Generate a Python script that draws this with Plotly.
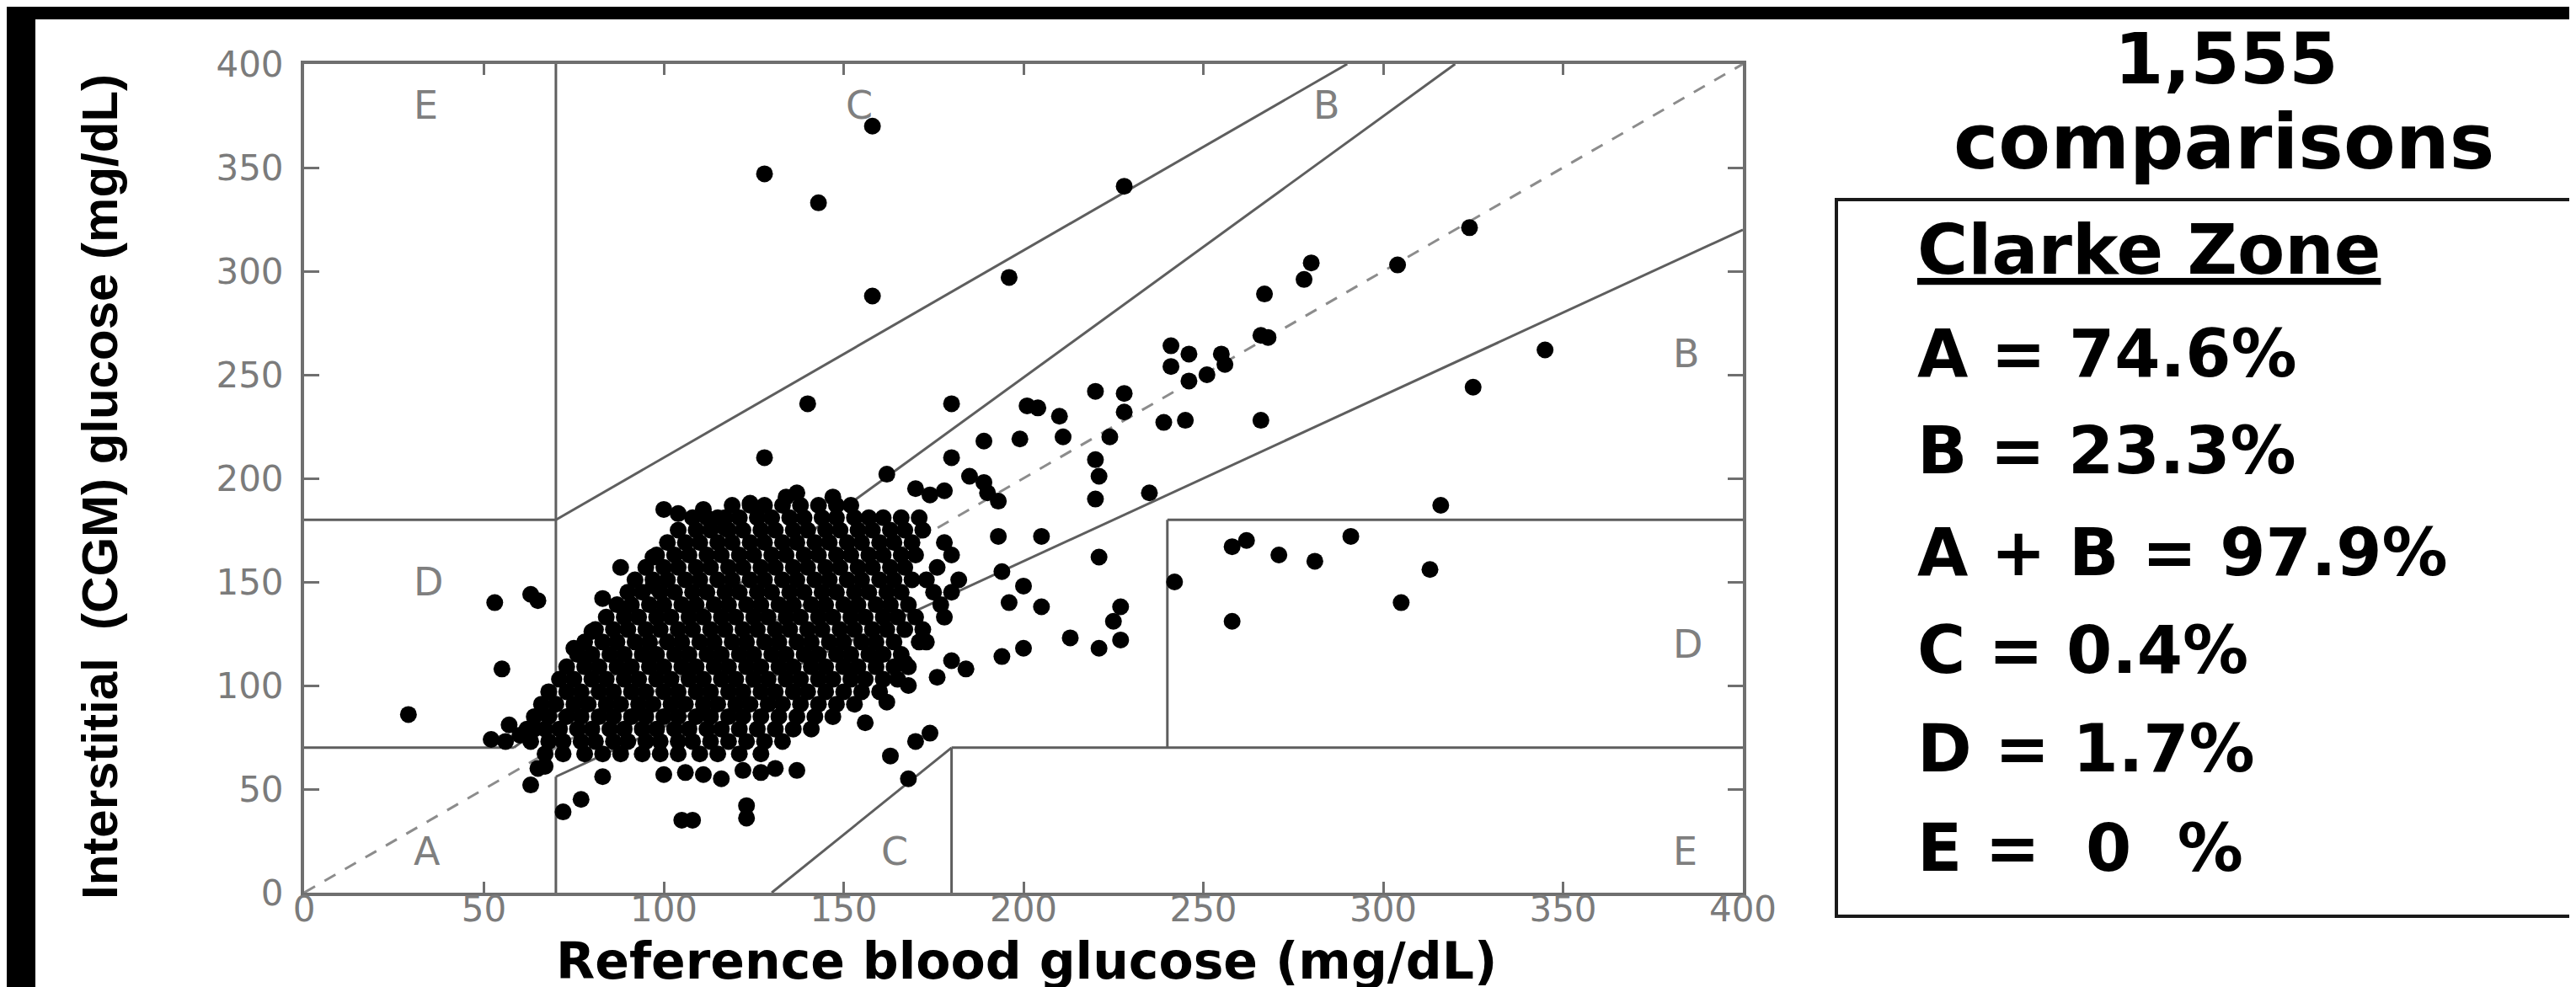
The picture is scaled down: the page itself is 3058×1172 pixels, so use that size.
import plotly.graph_objects as go

# ---------------- data ----------------
tick_vals = [0, 50, 100, 150, 200, 250, 300, 350, 400]
tick_text = ["0", "50", "100", "150", "200", "250", "300", "350", "400"]

# Clarke error grid boundaries (None separates segments)
zone_x = [0, 58.3, None, 58.3, 320, None, 70, 70, None, 0, 70, None, 70, 290, None,
          70, 70, None, 70, 400, None, 180, 180, None, 180, 400, None, 240, 240, None,
          240, 400, None, 130, 180]
zone_y = [70, 70, None, 70, 400, None, 84, 400, None, 180, 180, None, 180, 400, None,
          0, 56, None, 56, 320, None, 0, 70, None, 70, 70, None, 70, 180, None,
          180, 180, None, 0, 70]
identity_x = [0, 400]
identity_y = [0, 400]

zone_labels = ["A", "D", "E", "C", "C", "E", "D", "B", "B"]
zone_label_x = [30, 30, 30, 150, 160, 380, 380, 380, 280]
zone_label_y = [20, 150, 380, 380, 20, 20, 120, 260, 380]

# dense core of the scatter, read row by row (CGM level -> reference values)
core_cgm = [187, 181, 175, 169, 163, 157, 151, 145, 139, 133, 127, 121, 115, 109,
            103, 97, 91, 85, 79, 73, 67]
core_ref = [
    [119, 124, 128, 133, 138, 143, 148, 152],
    [108, 112, 117, 121, 126, 130, 135, 139, 144, 148, 153, 157, 161, 166, 171],
    [104, 109, 113, 118, 122, 127, 131, 136, 140, 145, 149, 154, 158, 163, 167, 172],
    [101, 106, 110, 115, 119, 124, 128, 133, 137, 142, 146, 151, 155, 160, 164, 169, 178],
    [98, 103, 107, 112, 116, 121, 125, 130, 134, 139, 143, 148, 152, 157, 161, 166, 170, 180],
    [95, 100, 104, 109, 113, 118, 122, 127, 131, 136, 140, 145, 149, 154, 158, 163, 167, 176],
    [92, 97, 101, 106, 110, 115, 119, 124, 128, 133, 137, 142, 146, 151, 155, 160, 164, 169, 173, 182],
    [90, 94, 99, 103, 108, 112, 117, 121, 126, 130, 135, 139, 144, 148, 153, 157, 162, 166, 175, 180],
    [87, 91, 96, 100, 105, 109, 114, 118, 123, 127, 132, 136, 141, 145, 150, 154, 159, 163, 168, 177],
    [84, 89, 93, 98, 102, 107, 111, 116, 120, 125, 129, 134, 138, 143, 147, 152, 156, 161, 165, 170, 178],
    [81, 86, 90, 95, 99, 104, 108, 113, 117, 122, 126, 131, 135, 140, 144, 149, 153, 158, 162, 167, 172],
    [78, 83, 87, 92, 96, 101, 105, 110, 114, 119, 123, 128, 132, 137, 141, 146, 150, 155, 159, 164, 173],
    [76, 80, 85, 89, 94, 98, 103, 107, 112, 116, 121, 125, 130, 134, 139, 143, 148, 152, 157, 161, 166],
    [73, 78, 82, 87, 91, 96, 100, 105, 109, 114, 118, 123, 127, 132, 136, 141, 145, 150, 154, 159, 164, 168],
    [71, 75, 80, 84, 89, 93, 98, 102, 107, 111, 116, 120, 125, 129, 134, 138, 143, 147, 152, 156, 161, 165],
    [68, 73, 77, 82, 86, 91, 95, 100, 104, 109, 113, 118, 122, 127, 131, 136, 140, 145, 150, 155, 160],
    [66, 70, 75, 79, 84, 88, 93, 97, 102, 106, 111, 115, 120, 124, 129, 133, 138, 143, 148, 153],
    [64, 68, 73, 77, 82, 86, 91, 95, 100, 104, 109, 113, 118, 122, 127, 132, 137, 142, 147],
    [62, 67, 71, 76, 80, 85, 89, 94, 98, 103, 107, 112, 116, 121, 126, 131, 136, 141],
    [63, 68, 72, 77, 81, 86, 90, 95, 99, 104, 108, 113, 118, 123, 128, 133],
    [67, 72, 78, 83, 88, 94, 99, 104, 110, 115, 121, 127],
]

# individually visible points around the core
outlier_ref = [158, 128, 143, 228, 196, 158, 140, 128, 180, 180, 162, 189, 201, 204, 210,
               220, 228, 228, 241, 241, 239, 224, 211, 199, 220, 221, 220, 235, 205, 221,
               242, 200, 205, 227, 225, 227, 213, 221, 200, 194, 180, 167, 171, 196, 194,
               193, 170, 174, 178, 185, 189, 190, 193, 134, 137, 147, 124, 115, 117, 111,
               104, 100, 97, 97, 88, 83, 80, 75, 53, 63, 65, 55, 29,
               324, 304, 280, 278, 267, 266, 268, 246, 255, 256, 251, 246, 345, 325, 266, 245,
               258, 262, 271, 281, 291, 305, 313, 258, 316,
               168, 163, 170, 174, 156, 162, 168, 176, 184,
               63, 72, 77, 105, 108, 123, 123, 83, 100, 106, 111, 116, 122, 127, 131, 137,
               65, 67, 56, 60, 64, 52, 57]
outlier_cgm = [370, 347, 333, 341, 297, 288, 236, 210, 236, 210, 202, 218, 235, 234, 230,
               242, 241, 232, 264, 254, 227, 220, 220, 219, 209, 201, 190, 193, 172, 162,
               150, 148, 138, 138, 131, 122, 123, 118, 118, 114, 112, 111, 121, 140, 155,
               172, 195, 192, 194, 201, 198, 193, 189, 191, 193, 191, 188, 181, 176, 185,
               183, 185, 162, 148, 157, 142, 126, 118, 140, 144, 141, 108, 86,
               321, 303, 304, 296, 289, 269, 268, 260, 260, 255, 250, 247, 262, 244, 228, 228,
               167, 170, 163, 160, 172, 140, 156, 131, 187,
               55, 66, 73, 77, 82, 92, 100, 104, 108,
               52, 39, 45, 35, 35, 42, 36, 56, 57, 58, 57, 55, 59, 58, 60, 59,
               60, 61, 73, 76, 79, 74, 81]

n_comparisons = "1,555"
stat_lines = ["A = 74.6%", "B = 23.3%", "A + B = 97.9%", "C = 0.4%", "D = 1.7%",
              "E =\u00a0\u00a00\u00a0\u00a0%"]

# ---------------- layout helpers (pixels -> paper) ----------------
W, H = 3058, 1172
PL, PR, PT, PB = 353, 2061, 68, 1052


def px(x):
    return (x - PL) / (PR - PL)


def py(y):
    return (PB - y) / (PB - PT)


pts_x = [v for row in core_ref for v in row] + outlier_ref
pts_y = [c for c, row in zip(core_cgm, core_ref) for _ in row] + outlier_cgm

fig = go.Figure()
fig.add_trace(go.Scatter(x=identity_x, y=identity_y, mode="lines",
                         line=dict(color="#8c8c8c", width=3, dash="15px,13px"),
                         hoverinfo="skip"))
fig.add_trace(go.Scatter(x=zone_x, y=zone_y, mode="lines", connectgaps=False,
                         line=dict(color="#5e5e5e", width=3), hoverinfo="skip"))
fig.add_trace(go.Scatter(x=pts_x, y=pts_y, mode="markers",
                         marker=dict(color="black", size=20, line=dict(width=0))))

gray = "#6f6f6f"
axis_common = dict(range=[0, 400], showline=True, linecolor=gray, linewidth=4,
                   mirror="ticks", ticks="inside", tickcolor=gray, tickwidth=3,
                   tickvals=tick_vals, ticktext=tick_text, showgrid=False, zeroline=False,
                   tickfont=dict(family="DejaVu Sans", size=42, color="#7b7b7b"))
fig.update_xaxes(**axis_common, ticklen=13, ticklabelstandoff=-20)
fig.update_yaxes(**axis_common, ticklen=18, ticklabelstandoff=12)

ann = []
for lab, lx, ly in zip(zone_labels, zone_label_x, zone_label_y):
    ann.append(dict(x=lx, y=ly, xref="x", yref="y", text=lab, showarrow=False,
                    xanchor="left", yanchor="middle",
                    font=dict(family="DejaVu Sans", size=46, color="#7f7f7f")))

ann.append(dict(x=px(1210), y=py(1133), xref="paper", yref="paper",
                text="Reference blood glucose (mg/dL)", showarrow=False,
                xanchor="center", yanchor="middle",
                font=dict(family="DejaVu Sans", size=60, color="black", weight="bold")))
ann.append(dict(x=px(110), y=py(570), xref="paper", yref="paper", textangle=-90,
                text="Interstitial\u00a0\u00a0(CGM) glucose (mg/dL)", showarrow=False,
                xanchor="center", yanchor="middle",
                font=dict(family="Liberation Sans, Arial, sans-serif",
                          size=60, color="black", weight="bold")))

ann.append(dict(x=px(2635), y=py(62), xref="paper", yref="paper", text=n_comparisons,
                showarrow=False, xanchor="center", yanchor="middle",
                font=dict(family="DejaVu Sans", size=84, color="black", weight="bold")))
ann.append(dict(x=px(2632), y=py(160), xref="paper", yref="paper", text="comparisons",
                showarrow=False, xanchor="center", yanchor="middle",
                font=dict(family="DejaVu Sans", size=90, color="black", weight="bold")))
ann.append(dict(x=px(2266), y=py(288), xref="paper", yref="paper",
                text="<u>Clarke Zone</u>", showarrow=False, xanchor="left", yanchor="middle",
                font=dict(family="DejaVu Sans", size=82, color="black", weight="bold")))
row_y = [412, 527, 648, 764, 881, 999]
for s, ry in zip(stat_lines, row_y):
    ann.append(dict(x=px(2266), y=py(ry), xref="paper", yref="paper", text=s,
                    showarrow=False, xanchor="left", yanchor="middle",
                    font=dict(family="DejaVu Sans", size=78, color="black", weight="bold")))

shapes = [
    dict(type="rect", xref="paper", yref="paper", x0=px(-5), x1=px(W + 5), y0=py(15), y1=py(-5),
         fillcolor="black", line=dict(width=0), layer="above"),
    dict(type="rect", xref="paper", yref="paper", x0=px(-5), x1=px(34), y0=py(H + 5), y1=py(-5),
         fillcolor="black", line=dict(width=0), layer="above"),
    dict(type="rect", xref="paper", yref="paper", x0=px(2172), x1=px(3075), y0=py(1080), y1=py(229),
         fillcolor="rgba(0,0,0,0)", line=dict(color="#1a1a1a", width=4)),
]

fig.update_layout(width=W, height=H, margin=dict(l=PL, r=W - PR, t=PT, b=H - PB, pad=0),
                  paper_bgcolor="white", plot_bgcolor="white", showlegend=False,
                  annotations=ann, shapes=shapes)

fig.write_html("out.html")
